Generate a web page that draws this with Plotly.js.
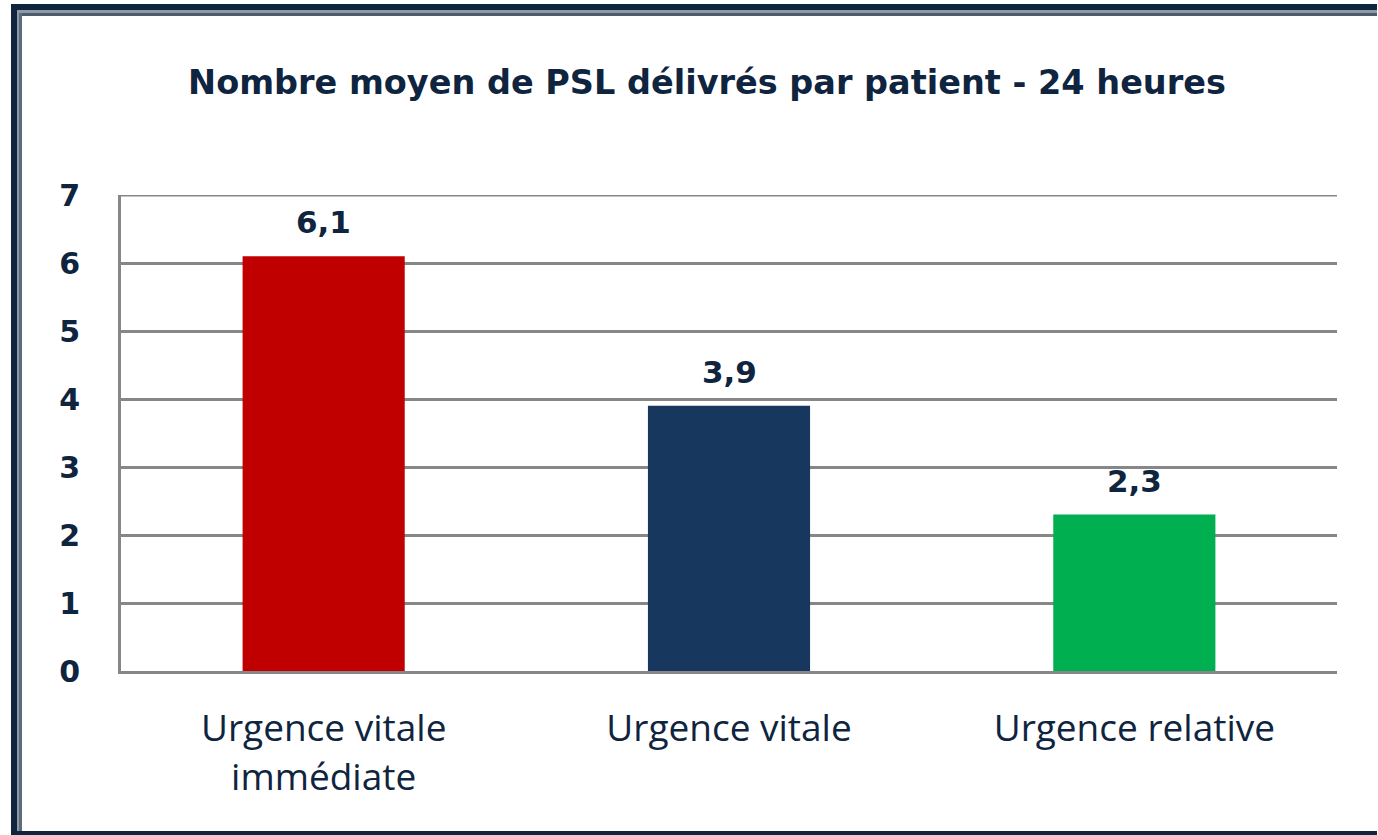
<!DOCTYPE html>
<html>
<head>
<meta charset="utf-8">
<script src="https://cdn.plot.ly/plotly-3.0.1.min.js"></script>
<style>
html,body{margin:0;padding:0;background:#fff;overflow:hidden;}
#chart{width:1378px;height:835px;}
</style>
</head>
<body>
<div id="chart"></div>
<script>
// ---- data ----
const categories = ["Urgence vitale<br>immédiate", "Urgence vitale", "Urgence relative"];
const values = [6.1, 3.9, 2.3];
const barColors = ["#C00000", "#17375E", "#00AF50"];
const yTicks = [0, 1, 2, 3, 4, 5, 6, 7];
const titleText = "Nombre moyen de PSL délivrés par patient - 24 heures";

// ---- layout geometry ----
const W = 1378, H = 835;
const L = 121, R = 1337, T = 195, B = 671;
const px = x => (x - L) / (R - L);
const py = y => (B - y) / (B - T);
const textColor = "#0F243E";
const gridColor = "#878787";

function rect(x0, y0, x1, y1, color) {
  return {type: "rect", xref: "paper", yref: "paper",
    x0: px(x0), x1: px(x1), y0: py(y1), y1: py(y0),
    fillcolor: color, line: {width: 0}, layer: "above"};
}

const FR = W - 1; // frame runs to the right edge
const shapes = [
  // outer frame (top / left / bottom)
  rect(11, 4, FR, 10, "#10243E"),
  rect(17, 10, FR, 13, "#8A9AA6"),
  rect(19, 13, FR, 16, "#4D5B6B"),
  rect(11, 4, 17, H, "#10243E"),
  rect(17, 10, 19, H, "#8A9AA6"),
  rect(19, 13, 22, H, "#5D6B7B"),
  rect(11, 831, FR, H, "#10243E"),
  // top gridline (at the upper edge of the value range)
  {type: "line", xref: "paper", yref: "y", x0: 0, x1: 1,
   y0: yTicks[yTicks.length - 1], y1: yTicks[yTicks.length - 1],
   line: {color: gridColor, width: 3}, layer: "below"}
];

const annotations = categories.map((c, i) => ({
  x: c, y: values[i], xref: "x", yref: "y",
  text: values[i].toFixed(1).replace(".", ","),
  showarrow: false, yanchor: "bottom", yshift: 14,
  font: {family: "DejaVu Sans", size: 31, color: textColor, weight: "bold"}
}));

const trace = {
  type: "bar",
  x: categories,
  y: values,
  marker: {color: barColors, line: {width: 0}},
  hoverinfo: "skip"
};

const layout = {
  width: W, height: H,
  margin: {l: L, r: W - R, t: T, b: H - B, pad: 0},
  paper_bgcolor: "#fff",
  plot_bgcolor: "#fff",
  showlegend: false,
  bargap: 0.6,
  title: {
    text: "<b>" + titleText + "</b>",
    xref: "container", yref: "container",
    x: 707 / W, xanchor: "center",
    y: 1 - 82 / H, yanchor: "middle",
    font: {family: "DejaVu Sans", size: 33.5, color: textColor}
  },
  xaxis: {
    type: "category",
    showgrid: false,
    showline: true, linecolor: gridColor, linewidth: 3,
    ticks: "", ticklabelstandoff: 23,
    tickfont: {family: "Open Sans", size: 37, color: textColor},
    fixedrange: true
  },
  yaxis: {
    range: [0, 7],
    tickvals: yTicks,
    ticktext: yTicks.map(String),
    showgrid: true, gridcolor: gridColor, gridwidth: 3,
    zeroline: false,
    showline: true, linecolor: gridColor, linewidth: 3,
    ticks: "", ticklabelstandoff: 32,
    tickfont: {family: "DejaVu Sans", size: 30, color: textColor, weight: "bold"},
    fixedrange: true
  },
  shapes: shapes,
  annotations: annotations
};

Plotly.newPlot("chart", [trace], layout, {displayModeBar: false, staticPlot: true});
</script>
</body>
</html>
